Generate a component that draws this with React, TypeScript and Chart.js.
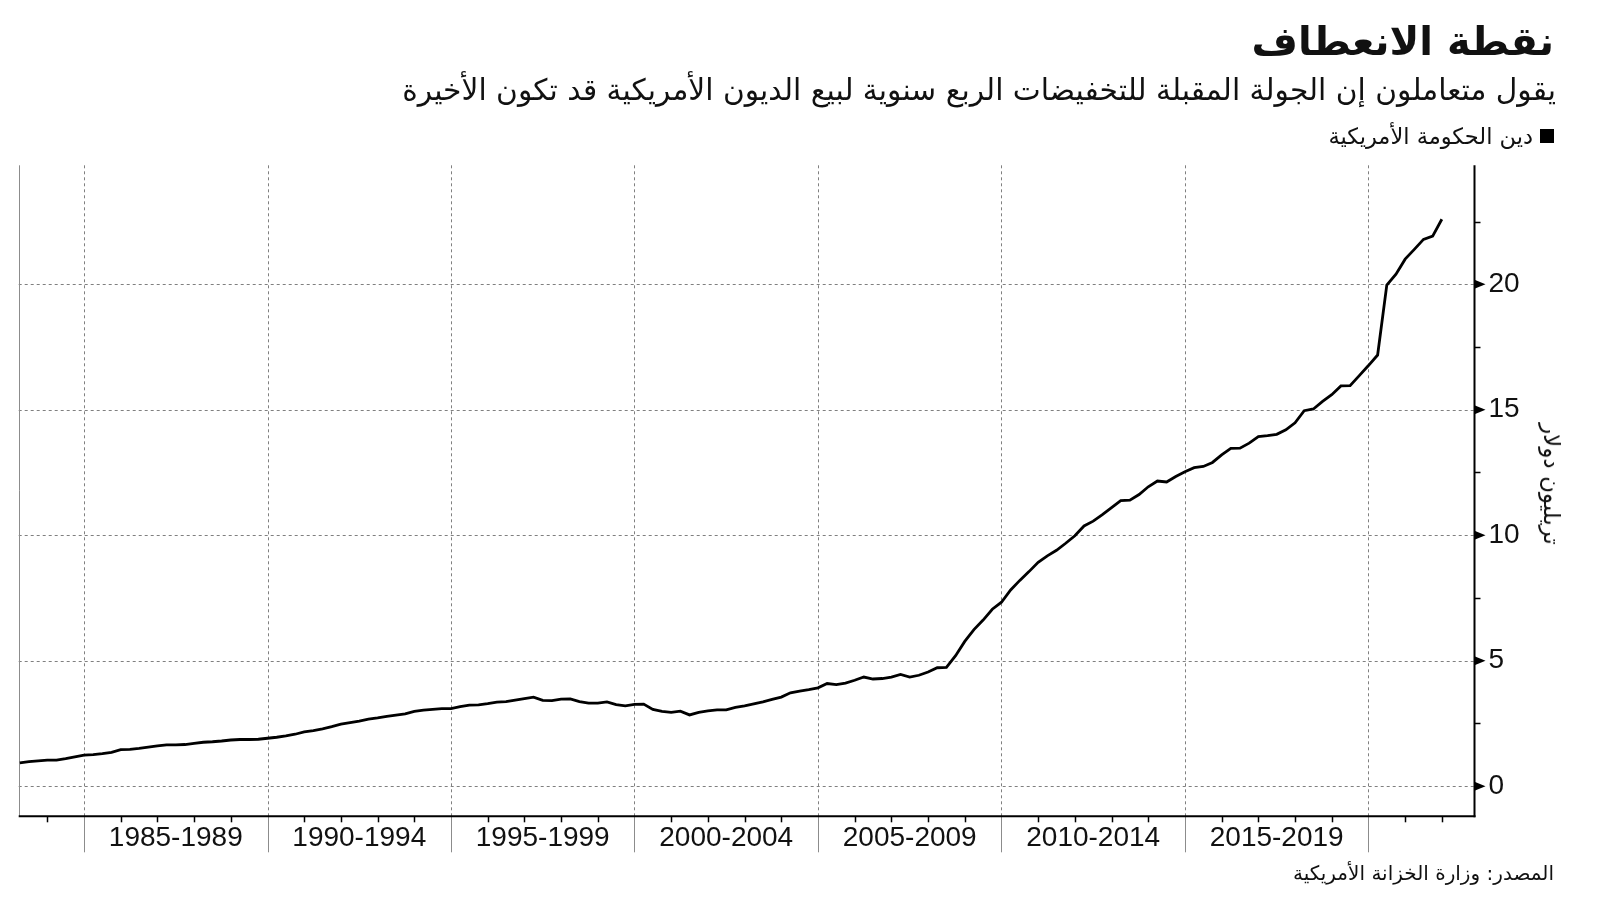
import React, { useEffect, useRef } from "react";
import { Chart, registerables } from "chart.js";

Chart.register(...registerables);

// ---- data ----
const firstQuarter = 1983.25; // decimal year of first quarterly observation
const debtTrillions: number[] = [
  0.93, 0.98, 1.01,
  1.04, 1.04, 1.1, 1.17,
  1.24, 1.26, 1.3, 1.35,
  1.46, 1.47, 1.51, 1.56,
  1.61, 1.65, 1.65, 1.66,
  1.71, 1.75, 1.77, 1.8,
  1.84, 1.86, 1.86, 1.87,
  1.91, 1.95, 2.0, 2.07,
  2.16, 2.21, 2.28, 2.37,
  2.47, 2.53, 2.59, 2.67,
  2.72, 2.78, 2.83, 2.88,
  2.98, 3.03, 3.06, 3.09,
  3.09, 3.17, 3.23, 3.24,
  3.29, 3.35, 3.37, 3.43,
  3.49, 3.55, 3.42, 3.41,
  3.47, 3.48, 3.37, 3.31,
  3.31, 3.36, 3.25, 3.2,
  3.26, 3.27, 3.06, 2.98,
  2.94, 2.99, 2.84, 2.94,
  3.0, 3.04, 3.04, 3.14,
  3.2, 3.28, 3.36, 3.46,
  3.55, 3.72, 3.79, 3.85,
  3.92, 4.09, 4.05, 4.11,
  4.22, 4.35, 4.27, 4.29,
  4.35, 4.45, 4.35, 4.42,
  4.55, 4.72, 4.73, 5.2,
  5.77, 6.24, 6.62, 7.05,
  7.33, 7.82, 8.2, 8.55,
  8.92, 9.18, 9.4, 9.68,
  9.98, 10.37, 10.56, 10.82,
  11.1, 11.38, 11.4, 11.62,
  11.93, 12.16, 12.12, 12.34,
  12.53, 12.69, 12.74, 12.9,
  13.2, 13.46, 13.47, 13.67,
  13.93, 13.97, 14.02, 14.2,
  14.48, 14.96, 15.03, 15.33,
  15.6, 15.95, 15.96, 16.36,
  16.76, 17.18, 19.97, 20.4,
  21.0, 21.39, 21.79, 21.92,
  22.59,
];
const periodLabels = [
  "1985-1989",
  "1990-1994",
  "1995-1999",
  "2000-2004",
  "2005-2009",
  "2010-2014",
  "2015-2019",
];
const periodMidpoints = [1987.5, 1992.5, 1997.5, 2002.5, 2007.5, 2012.5, 2017.5];
const periodBoundaries = [1985, 1990, 1995, 2000, 2005, 2010, 2015, 2020];
const yearTicks = [
  1984, 1985, 1986, 1987, 1988, 1989, 1990, 1991, 1992, 1993, 1994, 1995, 1996,
  1997, 1998, 1999, 2000, 2001, 2002, 2003, 2004, 2005, 2006, 2007, 2008, 2009,
  2010, 2011, 2012, 2013, 2014, 2015, 2016, 2017, 2018, 2019, 2020, 2021, 2022,
];
const yMajorTicks = [0, 5, 10, 15, 20];
const yMinorTicks = [2.5, 7.5, 12.5, 17.5, 22.5];

const titleText = "نقطة الانعطاف";
const subtitleText =
  "يقول متعاملون إن الجولة المقبلة للتخفيضات الربع سنوية لبيع الديون الأمريكية قد تكون الأخيرة";
const legendText = "دين الحكومة الأمريكية";
const sourceText = "المصدر: وزارة الخزانة الأمريكية";
const yTitleText = "تريليون دولار";

const ARABIC_FONT = '"DejaVu Sans", "Noto Sans", sans-serif';

const decorPlugin = {
  id: "decor",
  beforeDatasetsDraw(chart: any) {
    const { ctx, chartArea: a, scales } = chart;
    const x = scales.x;
    const y = scales.y;
    const line = (x1: number, y1: number, x2: number, y2: number) => {
      ctx.beginPath();
      ctx.moveTo(x1, y1);
      ctx.lineTo(x2, y2);
      ctx.stroke();
    };
    ctx.save();
    ctx.strokeStyle = "#808080";
    ctx.lineWidth = 1;
    ctx.setLineDash([3, 3]);
    for (const v of yMajorTicks) {
      const py = Math.round(y.getPixelForValue(v)) + 0.5;
      line(a.left, py, a.right, py);
    }
    for (const b of periodBoundaries) {
      const px = Math.round(x.getPixelForValue(b)) + 0.5;
      line(px, a.top, px, a.bottom);
    }
    ctx.setLineDash([]);
    ctx.strokeStyle = "#8c8c8c";
    line(Math.round(a.left) + 0.5, a.top, Math.round(a.left) + 0.5, a.bottom);
    ctx.restore();
  },
  afterDraw(chart: any) {
    const { ctx, chartArea: a, scales } = chart;
    const x = scales.x;
    const y = scales.y;
    const line = (x1: number, y1: number, x2: number, y2: number) => {
      ctx.beginPath();
      ctx.moveTo(x1, y1);
      ctx.lineTo(x2, y2);
      ctx.stroke();
    };
    ctx.save();
    // period separators below the axis
    ctx.strokeStyle = "#8c8c8c";
    ctx.lineWidth = 1;
    for (const b of periodBoundaries) {
      const px = Math.round(x.getPixelForValue(b)) + 0.5;
      line(px, a.bottom, px, a.bottom + 36);
    }
    // yearly ticks
    ctx.strokeStyle = "#000";
    ctx.lineWidth = 1.5;
    for (const yr of yearTicks) {
      if (periodBoundaries.includes(yr)) continue;
      const px = Math.round(x.getPixelForValue(yr)) + 0.5;
      line(px, a.bottom, px, a.bottom + 6);
    }
    // axes
    ctx.lineWidth = 2;
    ctx.strokeStyle = "#000";
    line(a.left, a.bottom, a.right + 1, a.bottom);
    line(a.right, a.top, a.right, a.bottom + 1);
    // y minor ticks
    ctx.lineWidth = 1.5;
    for (const v of yMinorTicks) {
      const py = Math.round(y.getPixelForValue(v)) + 0.5;
      line(a.right, py, a.right + 6, py);
    }
    // y major triangles
    ctx.fillStyle = "#000";
    for (const v of yMajorTicks) {
      const py = y.getPixelForValue(v);
      ctx.beginPath();
      ctx.moveTo(a.right, py - 4.5);
      ctx.lineTo(a.right + 11, py);
      ctx.lineTo(a.right, py + 4.5);
      ctx.closePath();
      ctx.fill();
    }
    ctx.restore();
  },
};

export default function App() {
  const canvasRef = useRef<HTMLCanvasElement | null>(null);

  useEffect(() => {
    const canvas = canvasRef.current;
    if (!canvas) return;
    const points = debtTrillions.map((v, i) => ({ x: firstQuarter + i * 0.25, y: v }));
    const chart = new Chart(canvas, {
      type: "line",
      data: {
        datasets: [
          {
            label: legendText,
            data: points,
            borderColor: "#000",
            borderWidth: 2.8,
            pointRadius: 0,
            tension: 0,
            fill: false,
          },
        ],
      },
      options: {
        animation: false,
        responsive: false,
        maintainAspectRatio: false,
        layout: { padding: { top: 165.3, left: 18.7, right: 0, bottom: 0 } },
        plugins: {
          legend: { display: false },
          tooltip: { enabled: false },
          title: { display: false },
        },
        scales: {
          x: {
            type: "linear",
            min: 1983.22,
            max: 2022.89,
            afterBuildTicks: (scale: any) => {
              scale.ticks = periodMidpoints.map((v) => ({ value: v }));
            },
            afterFit: (scale: any) => {
              scale.height = 84.7;
            },
            grid: { display: false, drawTicks: false },
            border: { display: false },
            ticks: {
              autoSkip: false,
              maxRotation: 0,
              minRotation: 0,
              padding: 5,
              color: "#111",
              font: { family: '"Liberation Sans", Arial, sans-serif', size: 28 },
              callback: (value: any) => {
                const idx = periodMidpoints.indexOf(Number(value));
                return idx >= 0 ? periodLabels[idx] : "";
              },
            },
          },
          y: {
            type: "linear",
            position: "right",
            min: -1.2,
            max: 24.74,
            afterBuildTicks: (scale: any) => {
              scale.ticks = yMajorTicks.map((v) => ({ value: v }));
            },
            afterFit: (scale: any) => {
              scale.width = 125.5;
            },
            grid: { display: false, drawTicks: false },
            border: { display: false },
            ticks: {
              padding: 14,
              color: "#111",
              font: { family: '"Liberation Sans", Arial, sans-serif', size: 28 },
              callback: (value: any) => String(value),
            },
          },
        },
      },
      plugins: [decorPlugin],
    });
    return () => chart.destroy();
  }, []);

  return (
    <div
      style={{
        position: "absolute",
        left: 0,
        top: 0,
        width: 1600,
        height: 901,
        background: "#fff",
        overflow: "hidden",
        fontFamily: ARABIC_FONT,
        color: "#111",
      }}
    >
      <canvas
        ref={canvasRef}
        width={1600}
        height={901}
        style={{ position: "absolute", left: 0, top: 0, width: 1600, height: 901 }}
      />
      <div
        dir="rtl"
        style={{
          position: "absolute",
          right: 46,
          top: 15,
          fontSize: 40,
          fontWeight: 900,
          lineHeight: "52px",
          whiteSpace: "nowrap",
        }}
      >
        {titleText}
      </div>
      <div
        dir="rtl"
        style={{
          position: "absolute",
          right: 44,
          top: 69,
          fontSize: 29.7,
          lineHeight: "42px",
          whiteSpace: "nowrap",
        }}
      >
        {subtitleText}
      </div>
      <div
        dir="rtl"
        style={{
          position: "absolute",
          right: 46,
          top: 121,
          fontSize: 22.5,
          lineHeight: "30px",
          whiteSpace: "nowrap",
          display: "flex",
          alignItems: "center",
          gap: 7,
        }}
      >
        <span style={{ display: "inline-block", width: 14, height: 14, background: "#000" }} />
        <span>{legendText}</span>
      </div>
      <div
        style={{
          position: "absolute",
          left: 1552,
          top: 484,
          transform: "translate(-50%, -50%) rotate(90deg)",
          fontSize: 23,
          lineHeight: "28px",
          whiteSpace: "nowrap",
        }}
        dir="rtl"
      >
        {yTitleText}
      </div>
      <div
        dir="rtl"
        style={{
          position: "absolute",
          right: 46,
          top: 859,
          fontSize: 20,
          lineHeight: "28px",
          whiteSpace: "nowrap",
        }}
      >
        {sourceText}
      </div>
    </div>
  );
}
